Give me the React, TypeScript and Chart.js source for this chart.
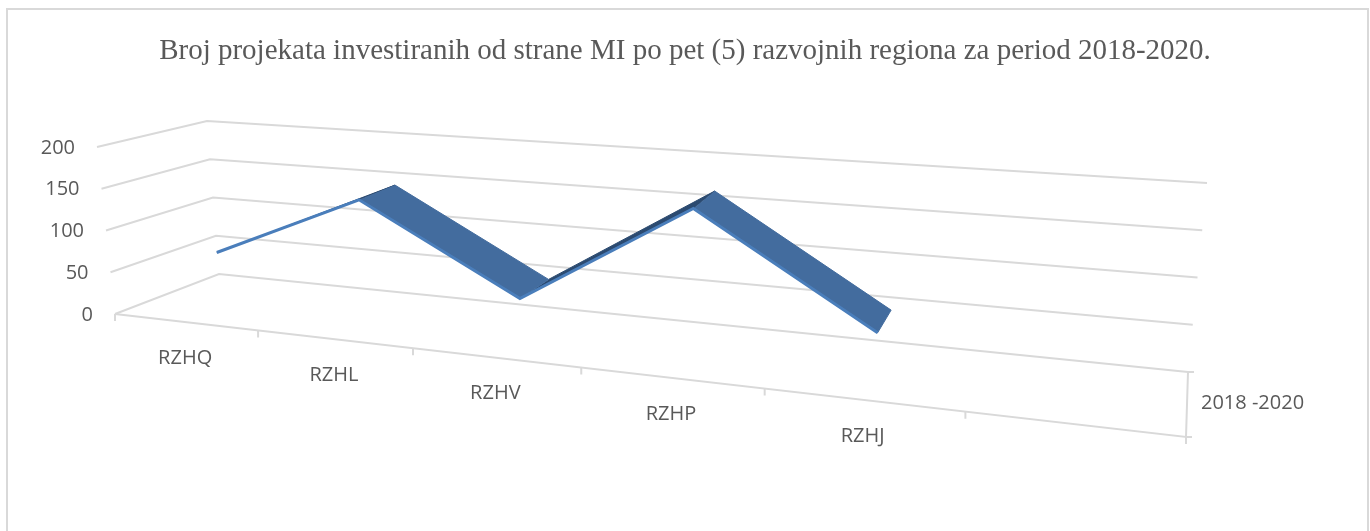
import React, { useEffect, useRef } from "react";
import { Chart, registerables } from "chart.js";

Chart.register(...registerables);

const titleText = "Broj projekata investiranih od strane MI po pet (5) razvojnih regiona za period 2018-2020.";
const categories = ["RZHQ", "RZHL", "RZHV", "RZHP", "RZHJ"];
const seriesName = "2018 -2020";
const projects = [66, 145, 47, 166, 49];
const valueTicks = [0, 50, 100, 150, 200];

// 3D box geometry of the picture (perspective projection of the data space)
const W = 1370, H = 531, TOP = 80;
const SLOTS = 6, PERSP = 1.297, VMAX = 200;
const FL = { x: 115, y: 314 }, FR = { x: 1186, y: 437 }, BL = { x: 219, y: 274 }, BR = { x: 1188, y: 372 };
const HFL = { x: -18, y: -167 }, HFR = { x: 25, y: -203 }, HBL = { x: -12, y: -153 }, HBR = { x: 19, y: -189 };
const RIBBON_FRONT = 0.37, RIBBON_BACK = 0.79;
const GRID = "#d9d9d9", TEXT = "#595959";
const LABEL_FONT = '"Open Sans"';

type P = { x: number; y: number };
const mix = (a: P, b: P, t: number): P => ({ x: a.x + (b.x - a.x) * t, y: a.y + (b.y - a.y) * t });
function project(c: number, v: number, d: number): P {
  const t = c / (c + PERSP * (SLOTS - c));
  const f = mix(mix(FL, FR, t), mix(BL, BR, t), d);
  const h = mix(mix(HFL, HFR, t), mix(HBL, HBR, t), d);
  return { x: f.x + (h.x * v) / VMAX, y: f.y + (h.y * v) / VMAX };
}

function lineDs(data: P[], color: string, width: number, order: number) {
  return { data, showLine: true, borderColor: color, borderWidth: width, pointRadius: 0, fill: false, order, clip: false, borderCapStyle: "butt" };
}

function buildDatasets() {
  const ds: any[] = [];
  // gridlines on left and back walls
  valueTicks.forEach((v) => {
    ds.push(lineDs([project(0, v, 0), project(0, v, 1), project(SLOTS, v, 1)], GRID, 2, 10));
  });
  // floor front edge and right edge
  ds.push(lineDs([project(0, 0, 0), project(SLOTS, 0, 0), project(SLOTS, 0, 1)], GRID, 2, 10));
  // category tick marks
  for (let c = 0; c <= SLOTS; c++) {
    const p = project(c, 0, 0);
    ds.push(lineDs([p, { x: p.x, y: p.y + 7 }], GRID, 2, 10));
  }
  // series-axis tick marks
  [0, 1].forEach((d) => {
    const p = project(SLOTS, 0, d);
    ds.push(lineDs([p, { x: p.x + 6, y: p.y }], GRID, 2, 10));
  });
  // ribbon surface
  for (let i = 0; i < projects.length - 1; i++) {
    const rising = projects[i + 1] > projects[i];
    ds.push({
      data: [
        project(i + 0.5, projects[i], RIBBON_FRONT),
        project(i + 1.5, projects[i + 1], RIBBON_FRONT),
        project(i + 1.5, projects[i + 1], RIBBON_BACK),
        project(i + 0.5, projects[i], RIBBON_BACK),
      ],
      showLine: true,
      backgroundColor: rising ? "#2b4a70" : "#436c9e",
      borderColor: rising ? "#2b4a70" : "#436c9e",
      borderWidth: 1,
      pointRadius: 0,
      fill: "shape",
      order: rising ? 6 : 5,
      clip: false,
    });
  }
  // lit front edge of the ribbon
  ds.push({
    ...lineDs(projects.map((v, i) => project(i + 0.5, v, RIBBON_FRONT)), "#4a7ebb", 3, 1),
    borderJoinStyle: "miter",
  });
  return ds;
}

const decorPlugin = {
  id: "decor",
  beforeDraw(chart: any) {
    const { ctx } = chart;
    ctx.save();
    ctx.fillStyle = "#ffffff";
    ctx.fillRect(0, 0, W, H);
    ctx.strokeStyle = GRID;
    ctx.lineWidth = 2;
    ctx.beginPath();
    ctx.moveTo(7, H);
    ctx.lineTo(7, 9);
    ctx.lineTo(1368, 9);
    ctx.lineTo(1368, H);
    ctx.stroke();
    ctx.restore();
  },
  afterDatasetsDraw(chart: any) {
    const { ctx } = chart;
    ctx.save();
    ctx.fillStyle = TEXT;
    ctx.font = `20px ${LABEL_FONT}`;
    ctx.textBaseline = "middle";
    ctx.textAlign = "right";
    valueTicks.forEach((v) => {
      const p = project(0, v, 0);
      ctx.fillText(String(v), p.x - 22, p.y + 1);
    });
    ctx.textAlign = "center";
    categories.forEach((name, i) => {
      const p = project(i + 0.5, 0, 0);
      ctx.fillText(name, p.x, p.y + 36);
    });
    ctx.textAlign = "left";
    const s = project(SLOTS, 0, 0.5);
    ctx.fillText(seriesName, s.x + 14, s.y - 1);
    ctx.restore();
  },
};

export default function App() {
  const ref = useRef<HTMLCanvasElement>(null);
  useEffect(() => {
    const chart = new Chart(ref.current!, {
      type: "scatter",
      data: { datasets: buildDatasets() },
      options: {
        animation: false,
        responsive: false,
        devicePixelRatio: 1,
        layout: { padding: 0 },
        plugins: {
          legend: { display: false },
          tooltip: { enabled: false },
          title: {
            display: true,
            text: titleText,
            color: TEXT,
            font: { family: '"Liberation Serif"', size: 29, weight: "normal", lineHeight: "36px" },
            padding: { top: 33, bottom: 11 },
          },
        },
        scales: {
          x: { type: "linear", display: false, min: 0, max: W },
          y: { type: "linear", display: false, reverse: true, min: TOP, max: H },
        },
      },
      plugins: [decorPlugin],
    } as any);
    return () => chart.destroy();
  }, []);
  return (
    <div style={{ position: "absolute", left: 0, top: 0, width: W, height: H }}>
      <canvas ref={ref} width={W} height={H} style={{ display: "block" }} />
    </div>
  );
}
